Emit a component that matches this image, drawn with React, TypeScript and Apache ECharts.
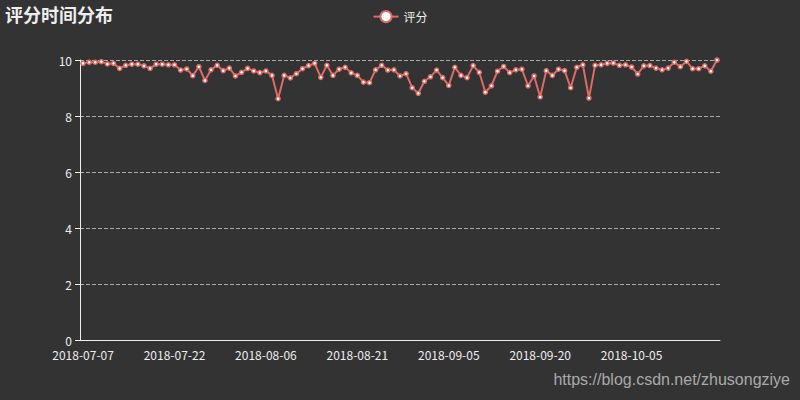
import React, { useEffect, useRef } from "react";
import * as echarts from "echarts";

const startDate = "2018-07-07";
const dayCount = 105;

const scores = [
  9.88, 9.92, 9.92, 9.94, 9.86, 9.88, 9.7, 9.81, 9.85, 9.85,
  9.79, 9.7, 9.85, 9.85, 9.83, 9.83, 9.64, 9.68, 9.44, 9.76,
  9.27, 9.65, 9.81, 9.62, 9.71, 9.43, 9.56, 9.7, 9.61, 9.55,
  9.61, 9.45, 8.62, 9.45, 9.36, 9.51, 9.69, 9.8, 9.88, 9.38,
  9.81, 9.45, 9.67, 9.74, 9.54, 9.45, 9.21, 9.19, 9.65, 9.81,
  9.64, 9.65, 9.43, 9.51, 9.01, 8.81, 9.24, 9.4, 9.64, 9.37,
  9.09, 9.74, 9.45, 9.37, 9.8, 9.56, 8.85, 9.08, 9.6, 9.77,
  9.55, 9.65, 9.67, 9.08, 9.43, 8.68, 9.62, 9.45, 9.67, 9.62,
  9.01, 9.74, 9.83, 8.64, 9.81, 9.83, 9.88, 9.89, 9.81, 9.83,
  9.75, 9.5, 9.79, 9.8, 9.71, 9.65, 9.71, 9.92, 9.76, 9.95,
  9.69, 9.69, 9.79, 9.6, 10.0,
];

function buildDates(start: string, n: number): string[] {
  const out: string[] = [];
  const base = new Date(start + "T00:00:00Z").getTime();
  for (let i = 0; i < n; i++) {
    const d = new Date(base + i * 86400000);
    const y = d.getUTCFullYear();
    const m = String(d.getUTCMonth() + 1).padStart(2, "0");
    const day = String(d.getUTCDate()).padStart(2, "0");
    out.push(`${y}-${m}-${day}`);
  }
  return out;
}

const dates = buildDates(startDate, dayCount);

const titleText = "评分时间分布";
const seriesName = "评分";
const watermark = "https://blog.csdn.net/zhusongziye";

export default function App() {
  const ref = useRef<HTMLDivElement>(null);
  useEffect(() => {
    if (!ref.current) return;
    const chart = echarts.init(ref.current, undefined, { renderer: "svg" });
    const font = "'Noto Sans CJK SC', 'Noto Sans', sans-serif";
    chart.setOption({
      animation: false,
      backgroundColor: "#333",
      textStyle: { fontFamily: font },
      title: {
        text: titleText,
        left: 5,
        top: 5,
        padding: 0,
        textStyle: { color: "#eee", fontSize: 18, fontWeight: "bold", fontFamily: font },
      },
      legend: {
        top: 5,
        data: [seriesName],
        textStyle: { color: "#eee", fontSize: 12, fontFamily: font },
      },
      grid: { left: 80, right: 80, top: 60, bottom: 60 },
      xAxis: {
        type: "category",
        data: dates,
        boundaryGap: true,
        axisLine: { lineStyle: { color: "#eee" } },
        axisTick: {
          lineStyle: { color: "#eee" },
          interval: (index: number) => index >= 8 && (index - 8) % 15 === 0,
        },
        axisLabel: { color: "#eee", fontSize: 12, interval: 14, fontFamily: font },
        splitLine: { show: false },
      },
      yAxis: {
        type: "value",
        min: 0,
        max: 10,
        interval: 2,
        axisLine: { show: true, lineStyle: { color: "#eee" } },
        axisTick: { show: true, lineStyle: { color: "#eee" } },
        axisLabel: { color: "#eee", fontSize: 12, fontFamily: font },
        splitLine: { lineStyle: { type: "dashed", color: "#aaa" } },
      },
      series: [
        {
          name: seriesName,
          type: "line",
          data: scores,
          symbol: "circle",
          symbolSize: 4,
          showAllSymbol: true,
          lineStyle: { color: "#dd6b66", width: 2 },
          itemStyle: { color: "#fff", borderColor: "#dd6b66", borderWidth: 1.5 },
        },
      ],
      graphic: [
        {
          type: "text",
          right: 10,
          top: 371,
          style: {
            text: watermark,
            fill: "#aaa",
            font: "16px 'Liberation Sans', Arial, sans-serif",
          },
        },
      ],
    });
    return () => chart.dispose();
  }, []);
  return <div ref={ref} style={{ width: 800, height: 400, position: "absolute", left: 0, top: 0 }} />;
}
